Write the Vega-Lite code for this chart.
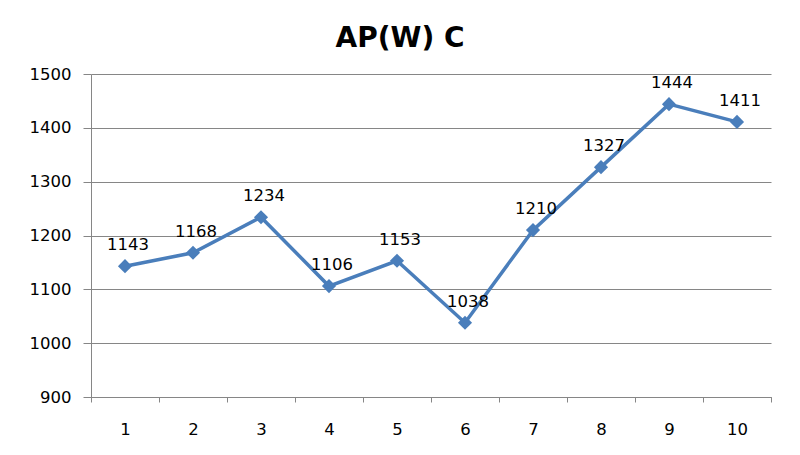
{
  "$schema": "https://vega.github.io/schema/vega-lite/v6.json",
  "width": 680,
  "height": 323,
  "autosize": {"type": "none"},
  "padding": {"left": 91, "top": 74, "right": 29, "bottom": 58},
  "background": "white",
  "title": {"text": "AP(W) C", "font": "DejaVu Sans", "fontSize": 28, "fontWeight": "bold", "color": "black", "anchor": "middle", "dx": -31, "offset": 13},
  "data": {"values": [
    {"x": 1, "v": 1143}, {"x": 2, "v": 1168}, {"x": 3, "v": 1234}, {"x": 4, "v": 1106}, {"x": 5, "v": 1153},
    {"x": 6, "v": 1038}, {"x": 7, "v": 1210}, {"x": 8, "v": 1327}, {"x": 9, "v": 1444}, {"x": 10, "v": 1411}
  ]},
  "config": {
    "view": {"stroke": null},
    "axis": {"labelFont": "DejaVu Sans", "labelFontSize": 16.5, "labelColor": "black", "domainColor": "#868686", "tickColor": "#868686", "gridColor": "#868686", "gridOpacity": 1, "domainWidth": 1, "tickWidth": 1}
  },
  "layer": [
    {
      "mark": {"type": "line", "color": "#4A7EBB", "strokeWidth": 3.5},
      "encoding": {
        "x": {"field": "x", "type": "quantitative", "scale": {"domain": [0.5, 10.5], "nice": false, "zero": false},
              "axis": {"orient": "bottom", "values": [1, 2, 3, 4, 5, 6, 7, 8, 9, 10], "ticks": false, "grid": false, "labelPadding": 24, "title": null, "labelFlush": false}},
        "y": {"field": "v", "type": "quantitative", "scale": {"domain": [900, 1500], "nice": false, "zero": false},
              "axis": {"values": [900, 1000, 1100, 1200, 1300, 1400, 1500], "format": "d", "tickSize": 8, "labelPadding": 12, "title": null, "grid": true, "labelFlush": false}}
      }
    },
    {
      "mark": {"type": "point", "shape": "diamond", "filled": true, "color": "#4A7EBB", "size": 200, "opacity": 1},
      "encoding": {
        "x": {"field": "x", "type": "quantitative",
              "axis": {"orient": "bottom", "values": [0.5, 1.5, 2.5, 3.5, 4.5, 5.5, 6.5, 7.5, 8.5, 9.5, 10.5], "labels": false, "tickSize": 5, "grid": false, "title": null}},
        "y": {"field": "v", "type": "quantitative"}
      }
    },
    {
      "mark": {"type": "text", "dy": -21, "dx": 3, "font": "DejaVu Sans", "fontSize": 16.5, "color": "black"},
      "encoding": {
        "x": {"field": "x", "type": "quantitative", "axis": null},
        "y": {"field": "v", "type": "quantitative"},
        "text": {"field": "v", "type": "quantitative", "format": "d"}
      }
    }
  ],
  "resolve": {"axis": {"x": "independent"}}
}
